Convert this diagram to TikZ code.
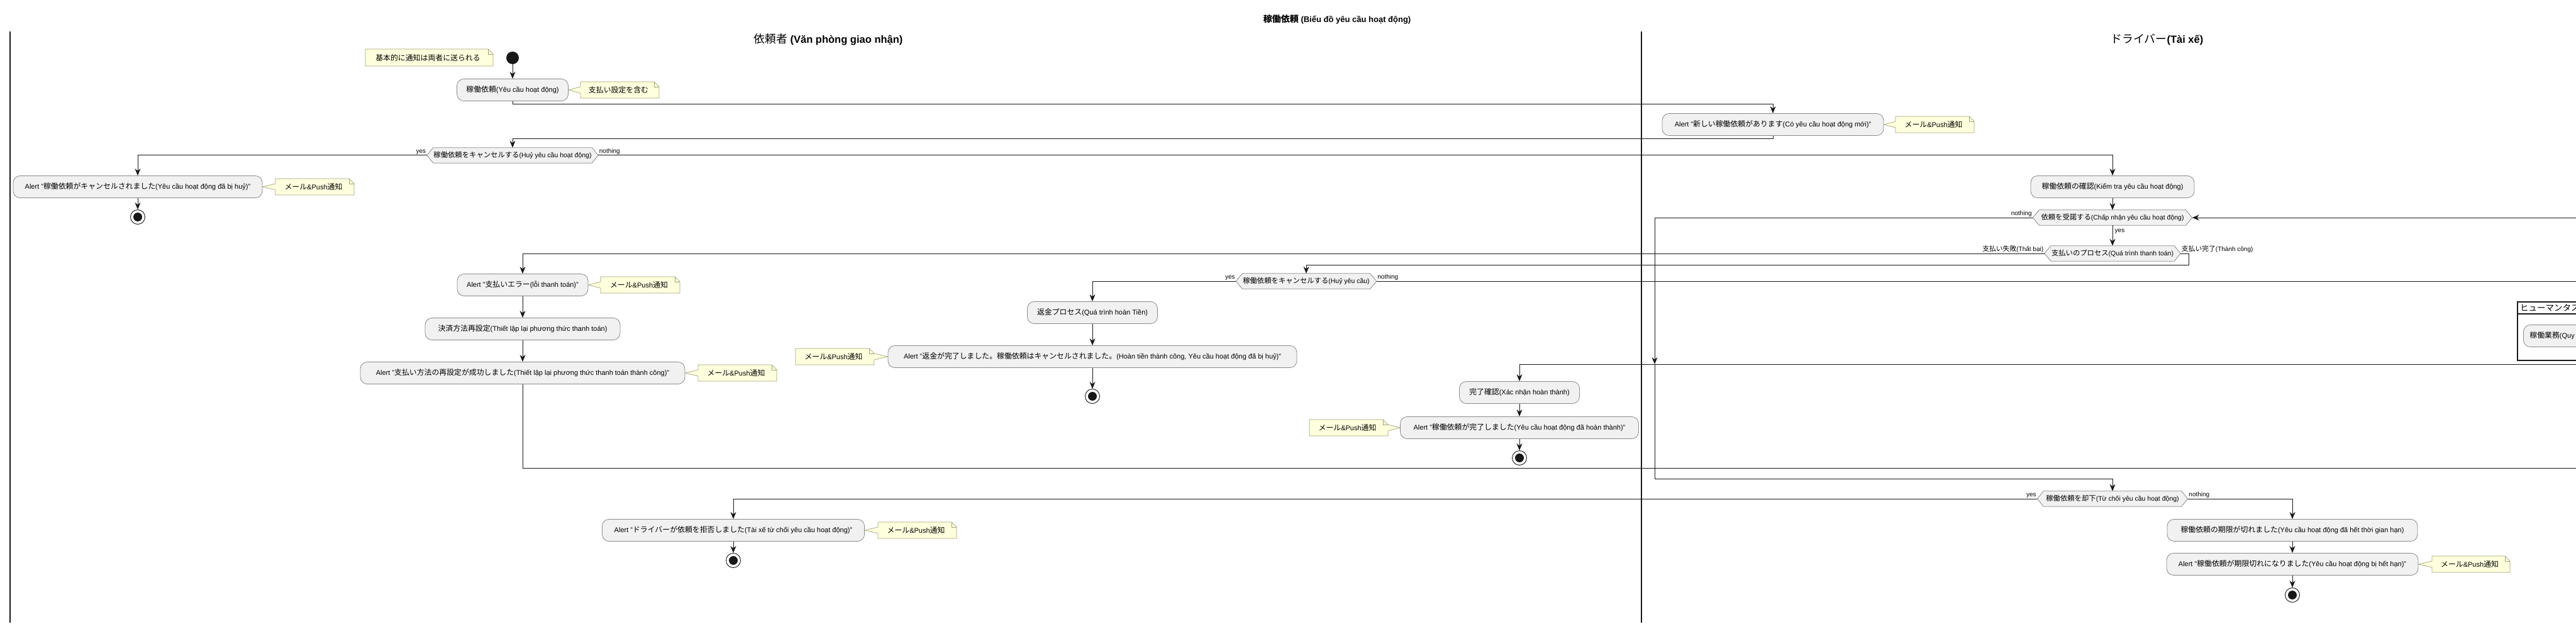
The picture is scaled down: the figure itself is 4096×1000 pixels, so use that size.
\documentclass[tikz,border=0pt]{standalone}
\usepackage{fontspec}
\setmainfont{Liberation Sans}
\newfontfamily\jpfont[Scale=1.08]{Noto Sans CJK JP}
\newcommand\J[1]{{\jpfont #1}}
\usetikzlibrary{arrows.meta,calc}
\pgfdeclarelayer{background}
\pgfsetlayers{background,main}
\definecolor{actfill}{HTML}{F1F1F1}
\definecolor{actdraw}{HTML}{8A8A8A}
\definecolor{notefill}{HTML}{FEFFDD}
\definecolor{notedraw}{HTML}{A3A37A}
\definecolor{ink}{HTML}{181818}
\tikzset{
  act/.style={draw=actdraw, fill=actfill, rounded corners=11pt, minimum height=35pt, inner xsep=4pt, inner ysep=2pt, font=\fontsize{11}{13}\selectfont, line width=0.8pt},
  hexin/.style={minimum height=24pt, inner sep=0pt, font=\fontsize{10.5}{12}\selectfont},
  hexshape/.style={draw=actdraw, fill=actfill, line width=0.8pt},
  lbl/.style={font=\fontsize{10}{12}\selectfont, inner sep=1.5pt},
  flow/.style={draw=ink, line width=1pt, -{Stealth[length=11pt,width=9pt,inset=3.5pt]}},
  plain/.style={draw=ink, line width=1pt},
  notesh/.style={draw=notedraw, fill=notefill, line width=0.7pt},
  notefold/.style={draw=notedraw, line width=0.7pt},
  notetxt/.style={font=\fontsize{11}{13}\selectfont, inner sep=0pt},
  lane/.style={draw=ink, line width=1.3pt},
  lanetitle/.style={font=\fontsize{16.5}{20}\selectfont},
  startnode/.style={circle, fill=ink, minimum size=20pt, inner sep=0pt},
  endnode/.style={circle, draw=ink, line width=0.9pt, fill=white, minimum size=23pt, inner sep=0pt,
     path picture={\fill[ink] (path picture bounding box.center) circle (7pt);}},
}
\newcommand\hexnode[4]{%
  \node[hexin, minimum width=#3] (#1) at (#2) {#4};
  \begin{pgfonlayer}{background}
  \path[hexshape] (#1.west) -- ($(#1.north west)+(10,0)$) -- ($(#1.north east)+(-10,0)$) -- (#1.east) -- ($(#1.south east)+(-10,0)$) -- ($(#1.south west)+(10,0)$) -- cycle;
  \end{pgfonlayer}}
% note with pointer on its left side: name x0 y0 x1 y1 target text
\newcommand\noteR[7]{%
  \path[notesh] (#2,#3) -- (#4-8,#3) -- (#4,#3+8) -- (#4,#5) -- (#2,#5) -- (#2,{(#3+#5)/2+5}) -- (#6) -- (#2,{(#3+#5)/2-5}) -- cycle;
  \draw[notefold] (#4-8,#3) -- (#4-8,#3+8) -- (#4,#3+8);
  \node[notetxt] (#1) at ({(#2+#4)/2-2},{(#3+#5)/2}) {#7};}
% note with pointer on its right side
\newcommand\noteL[7]{%
  \path[notesh] (#2,#3) -- (#4-8,#3) -- (#4,#3+8) -- (#4,{(#3+#5)/2-5}) -- (#6) -- (#4,{(#3+#5)/2+5}) -- (#4,#5) -- (#2,#5) -- cycle;
  \draw[notefold] (#4-8,#3) -- (#4-8,#3+8) -- (#4,#3+8);
  \node[notetxt] (#1) at ({(#2+#4)/2-2},{(#3+#5)/2}) {#7};}
% note without pointer
\newcommand\noteN[6]{%
  \path[notesh] (#2,#3) -- (#4-8,#3) -- (#4,#3+8) -- (#4,#5) -- (#2,#5) -- cycle;
  \draw[notefold] (#4-8,#3) -- (#4-8,#3+8) -- (#4,#3+8);
  \node[notetxt] (#1) at ({(#2+#4)/2-2},{(#3+#5)/2}) {#6};}
\newcommand\mailpush{\J{メール}\&Push\J{通知}}
\begin{document}
\begin{tikzpicture}[x=1pt,y=-1pt]
\useasboundingbox (0,0) rectangle (4096,1000);
\begin{pgfonlayer}{background}
\fill[white] (0,0) rectangle (4096,1000);
\end{pgfonlayer}
\clip (0,0) rectangle (4096,1000);

% titles and lanes
\node[font=\bfseries\fontsize{13}{15}\selectfont] (title) at (2126,31) {\J{稼働依頼} (Biểu đồ yêu cầu hoạt động)};
\node[lanetitle] (lane1) at (1317,63) {\J{依頼者} \textbf{(Văn phòng giao nhận)}};
\node[lanetitle] (lane2) at (3430,63) {\J{ドライバー}\textbf{(Tài xế)}};
\draw[lane] (16,50) -- (16,990);
\draw[lane] (2610,50) -- (2610,990);

% nodes
\node[startnode] (st) at (815,92) {};
\noteN{n0}{581}{78}{784}{105}{\J{基本的に通知は両者に送られる}}
\node[act, minimum width=177pt] (a1) at (815,143) {\J{稼働依頼}(Yêu cầu hoạt động)};
\noteR{n1}{923}{130}{1048}{156}{a1.east}{\J{支払い設定を含む}}
\node[act, minimum width=352pt] (a2) at (2819,198) {Alert "\J{新しい稼働依頼があります}(Có yêu cầu hoạt động mới)"};
\noteR{n2}{3014}{185}{3139}{211}{a2.east}{\mailpush}
\hexnode{d1}{815,247}{272pt}{\J{稼働依頼をキャンセルする}(Huỷ yêu cầu hoạt động)}
\node[act, minimum width=396pt] (a3) at (219,297) {Alert "\J{稼働依頼がキャンセルされました}(Yêu cầu hoạt động đã bị huỷ)"};
\noteR{n3}{438}{284}{563}{310}{a3.east}{\mailpush}
\node[endnode] (e1) at (219,345) {};
\node[act, minimum width=260pt] (a4) at (3359,297) {\J{稼働依頼の確認}(Kiểm tra yêu cầu hoạt động)};
\hexnode{d2}{3359,346}{253pt}{\J{依頼を受諾する}(Chấp nhận yêu cầu hoạt động)}
\hexnode{d3}{3359,403}{216pt}{\J{支払いのプロセス}(Quá trình thanh toán)}
\node[act, minimum width=208pt] (a5) at (831,453) {Alert "\J{支払いエラー}(lỗi thanh toán)"};
\noteR{n5}{955}{440}{1081}{466}{a5.east}{\mailpush}
\node[act, minimum width=310pt] (a6) at (831,523) {\J{決済方法再設定}(Thiết lập lại phương thức thanh toán)};
\node[act, minimum width=516pt] (a7) at (831,593) {Alert "\J{支払い方法の再設定が成功しました}(Thiết lập lại phương thức thanh toán thành công)"};
\noteR{n7}{1110}{580}{1235}{606}{a7.east}{\mailpush}
\hexnode{d4}{2077,447}{223pt}{\J{稼働依頼をキャンセルする}(Huỷ yêu cầu)}
\node[act, minimum width=207pt] (a8) at (1737,497) {\J{返金プロセス}(Quá trình hoàn Tiền)};
\node[act, minimum width=650pt] (a9) at (1737,567) {Alert "\J{返金が完了しました。稼働依頼はキャンセルされました。}(Hoàn tiền thành công, Yêu cầu hoạt động đã bị huỷ)"};
\noteL{n9}{1265}{554}{1390}{580}{a9.west}{\mailpush}
\node[endnode] (e2) at (1737,630) {};
\node[act, minimum width=191pt] (a10) at (2416,624) {\J{完了確認}(Xác nhận hoàn thành)};
\node[act, minimum width=379pt] (a11) at (2416,680) {Alert "\J{稼働依頼が完了しました}(Yêu cầu hoạt động đã hoàn thành)"};
\noteL{n11}{2082}{667}{2207}{693}{a11.west}{\mailpush}
\node[endnode] (e3) at (2416,728) {};
\hexnode{d5}{3359,793}{239pt}{\J{稼働依頼を却下}(Từ chối yêu cầu hoạt động)}
\node[act, minimum width=417pt] (a12) at (1166,843) {Alert "\J{ドライバーが依頼を拒否しました}(Tài xế từ chối yêu cầu hoạt động)"};
\noteR{n12}{1396}{830}{1521}{856}{a12.east}{\mailpush}
\node[endnode] (e4) at (1166,891) {};
\node[act, minimum width=398pt] (a13) at (3645,843) {\J{稼働依頼の期限が切れました}(Yêu cầu hoạt động đã hết thời gian hạn)};
\node[act, minimum width=400pt] (a14) at (3645,897) {Alert "\J{稼働依頼が期限切れになりました}(Yêu cầu hoạt động bị hết hạn)"};
\noteR{n14}{3867}{884}{3991}{910}{a14.east}{\mailpush}
\node[endnode] (e5) at (3645,946) {};

% group (cut by the right edge)
\node[draw=ink, line width=1.6pt, anchor=north west, minimum width=320pt, minimum height=93pt, inner sep=0pt] (grp) at (4002,479) {};
\draw[ink, line width=1.2pt] ($(grp.north west)+(0,20)$) -- ($(grp.north east)+(0,20)$);
\node[anchor=west, font=\fontsize{12.5}{15}\selectfont, inner sep=0pt] (grpt) at (4007,489) {\J{ヒューマンタスク}};
\node[act, anchor=west, minimum width=260pt, text width=240pt, align=left, inner xsep=10pt] (a15) at (4012,534) {\J{稼働業務}(Quy};

% coordinates for loose ends and bends
\coordinate (b1) at ($(a1.south)+(0,5)$);
\coordinate (b2) at ($(a2.south)+(0,5)$);
\coordinate (r1) at (4096,346);
\coordinate (c1) at ($(d3.east)+(13,0)$);
\coordinate (c2) at ($(c1)+(0,18)$);
\coordinate (c3) at (831,744);
\coordinate (c4) at (4096,744);
\coordinate (c5) at (4096,447);
\coordinate (c6) at (4096,579);
\coordinate (c7) at (2631,346);
\coordinate (c8) at (2631,579);
\coordinate (c9) at (2631,761);

% connectors
\draw[flow] (st) -- (a1);
\draw[flow] (a1.south) -- (b1) -| (a2.north);
\draw[flow] (a2.south) -- (b2) -| (d1.north);
\draw[flow] (d1.west) -| (a3.north);
\node[lbl, anchor=south east] (l1) at (d1.west) {yes};
\draw[flow] (a3) -- (e1);
\draw[flow] (d1.east) -| (a4.north);
\node[lbl, anchor=south west] (l2) at (d1.east) {nothing};
\draw[flow] (a4) -- (d2);
\draw[flow] (r1) -- (d2.east);
\draw[flow] (d2) -- (d3);
\node[lbl, anchor=west] (l3) at ($(d2.south)+(2,10)$) {yes};
\draw[flow] (d2.west) -- (c7) -- (c8);
\draw[flow] (c8) -- (c9) -| (d5.north);
\node[lbl, anchor=south east] (l4) at (d2.west) {nothing};
\draw[flow] (d3.west) -| (a5.north);
\node[lbl, anchor=south east] (l5) at (d3.west) {\J{支払い失敗}(Thất bại)};
\draw[flow] (d3.east) -- (c1) -- (c2) -| (d4.north);
\node[lbl, anchor=south west] (l6) at (d3.east) {\J{支払い完了}(Thành công)};
\draw[flow] (a5) -- (a6);
\draw[flow] (a6) -- (a7);
\draw[plain] (a7.south) -- (c3) -- (c4);
\draw[flow] (d4.west) -| (a8.north);
\node[lbl, anchor=south east] (l7) at (d4.west) {yes};
\draw[plain] (d4.east) -- (c5);
\node[lbl, anchor=south west] (l8) at (d4.east) {nothing};
\draw[flow] (a8) -- (a9);
\draw[flow] (a9) -- (e2);
\draw[flow] (c6) -| (a10.north);
\draw[flow] (a10) -- (a11);
\draw[flow] (a11) -- (e3);
\draw[flow] (d5.west) -| (a12.north);
\node[lbl, anchor=south east] (l9) at (d5.west) {yes};
\draw[flow] (a12) -- (e4);
\draw[flow] (d5.east) -| (a13.north);
\node[lbl, anchor=south west] (l10) at (d5.east) {nothing};
\draw[flow] (a13) -- (a14);
\draw[flow] (a14) -- (e5);
\end{tikzpicture}
\end{document}
